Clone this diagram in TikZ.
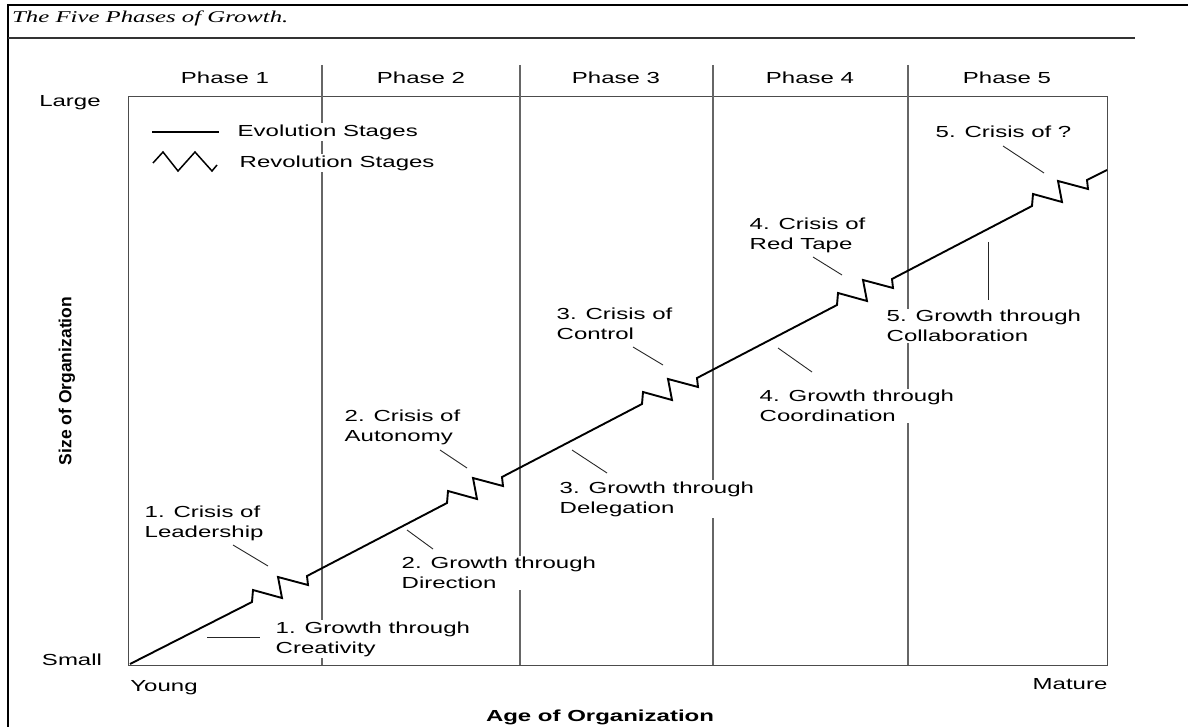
\documentclass[tikz,border=0pt]{standalone}
\usepackage{fontspec}
\setmainfont{Liberation Serif}
\newfontfamily\labfont[FakeStretch=1.5]{Liberation Sans}
\newfontfamily\titlefont[FakeStretch=1.5]{Liberation Serif}
\newfontfamily\axfont{Liberation Sans}
\begin{document}
\begin{tikzpicture}[x=1pt,y=-1pt,
  lab/.style={font=\labfont\fontsize{16}{20}\selectfont, inner sep=1.5pt, fill=white, align=left, anchor=west},
  axlab/.style={font=\labfont\fontsize{16}{20}\selectfont, inner sep=0pt},
  leader/.style={line width=0.9pt, black!85},
  divider/.style={line width=1.1pt, black!60},
  evo/.style={line width=1.9pt, line join=miter, miter limit=4}]
\useasboundingbox (0,0) rectangle (1188,727);
% frame and title
\draw[line width=2.5pt] (8,727) -- (8,5) -- (1188,5);
\node[font=\titlefont\itshape\fontsize{16.5}{19}\selectfont, anchor=west, inner sep=0pt] (title) at (12,18) {The Five Phases of Growth.};
\draw[line width=1.2pt, black!80] (8,38) -- (1135,38);
% plot box and phase dividers
\draw[line width=1pt, black!70] (128,97) rectangle (1107,665);
\foreach \x in {322,520,713,908} \draw[divider] (\x,65) -- (\x,665);
% phase labels
\node[axlab] (ph1) at (225,78) {Phase 1};
\node[axlab] (ph2) at (421,78) {Phase 2};
\node[axlab] (ph3) at (616,78) {Phase 3};
\node[axlab] (ph4) at (810,78) {Phase 4};
\node[axlab] (ph5) at (1007,78) {Phase 5};
% axis labels
\node[axlab] (large) at (70,103) {Large};
\node[axlab] (small) at (72,660) {Small};
\node[axlab] (young) at (164,688) {Young};
\node[axlab] (mature) at (1070,684) {Mature};
\node[axlab, font=\labfont\bfseries\fontsize{16}{20}\selectfont] (xaxis) at (600,717) {Age of Organization};
\node[inner sep=0pt, rotate=90, font=\axfont\bfseries\fontsize{17.5}{20}\selectfont] (yaxis) at (67,381) {Size of Organization};
% evolution / revolution path
\draw[evo] (130,664) -- (252,602)
  -- ++(1,-12) -- ++(29,8) -- ++(-4,-21) -- ++(30,8) -- ++(-1,-9)
  -- (447,503)
  -- ++(1,-12) -- ++(29,8) -- ++(-4,-21) -- ++(30,8) -- ++(-1,-9)
  -- (642,404)
  -- ++(1,-12) -- ++(29,8) -- ++(-4,-21) -- ++(30,8) -- ++(-1,-9)
  -- (837,305)
  -- ++(1,-12) -- ++(29,8) -- ++(-4,-21) -- ++(30,8) -- ++(-1,-9)
  -- (1032,206)
  -- ++(1,-12) -- ++(29,8) -- ++(-4,-21) -- ++(30,8) -- ++(-1,-9)
  -- (1107,170);
% legend
\coordinate (le1) at (152,132); \coordinate (le2) at (219,132);
\draw[line width=1.2pt] (le1) -- (le2);
\node[lab] (evolab) at (236,132) {Evolution Stages};
\draw[line width=1.5pt, line join=miter] (153,163) -- (163,152) -- (178,171) -- (195,152) -- (212,171) -- (217,165);
\node[lab] (revlab) at (238,163) {Revolution Stages};
% crisis labels
\node[lab] (c1) at (143,523) {1. Crisis of\\Leadership};
\node[lab] (c2) at (343,427) {2. Crisis of\\Autonomy};
\node[lab] (c3) at (555,324) {3. Crisis of\\Control};
\node[lab] (c4) at (748,235) {4. Crisis of\\Red Tape};
\node[lab] (c5) at (934,132) {5. Crisis of ?};
% growth labels
\node[lab] (g1) at (274,639) {1. Growth through\\Creativity};
\node[lab] (g2) at (400,573) {2. Growth through\\Direction};
\node[lab] (g3) at (558,499) {3. Growth through\\Delegation};
\node[lab] (g4) at (758,406) {4. Growth through\\Coordination};
\node[lab] (g5) at (885,326) {5. Growth through\\Collaboration};
% leaders
\coordinate (c1a) at (233,545); \coordinate (c1b) at (268,566);
\coordinate (c2a) at (440,450); \coordinate (c2b) at (467,468);
\coordinate (c3a) at (633,347); \coordinate (c3b) at (663,365);
\coordinate (c4a) at (813,257); \coordinate (c4b) at (842,275);
\coordinate (c5a) at (1003,146); \coordinate (c5b) at (1044,173);
\coordinate (g1a) at (207,637); \coordinate (g1b) at (260,637);
\coordinate (g2a) at (407,530); \coordinate (g2b) at (433,549);
\coordinate (g3a) at (572,450); \coordinate (g3b) at (607,473);
\coordinate (g4a) at (778,348); \coordinate (g4b) at (812,372);
\coordinate (g5a) at (988,242); \coordinate (g5b) at (988,300);
\foreach \p in {c1,c2,c3,c4,c5,g1,g2,g3,g4,g5} \draw[leader] (\p a) -- (\p b);
\end{tikzpicture}
\end{document}
